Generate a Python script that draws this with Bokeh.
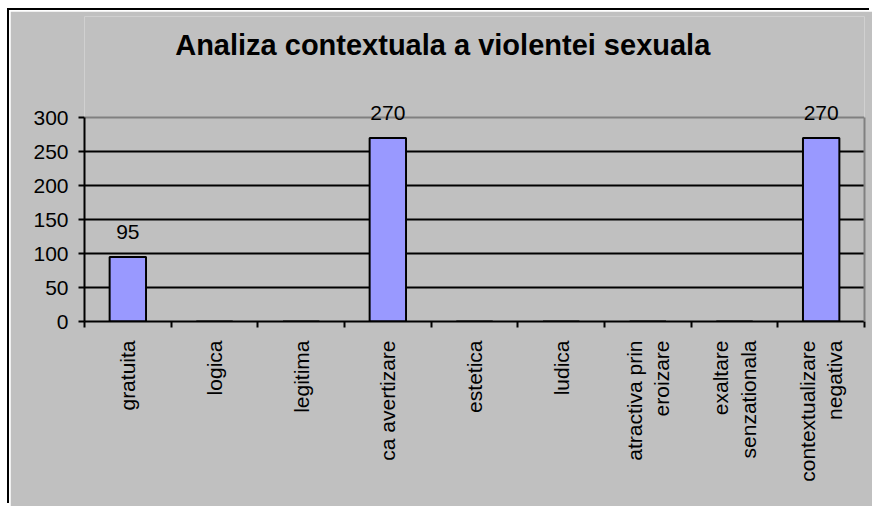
import math
from bokeh.plotting import figure
from bokeh.models import (ColumnDataSource, LabelSet, Label, FactorRange, Range1d, LinearAxis,
                          FixedTicker, Grid)
from bokeh.core.properties import value
from bokeh.embed import file_html
from bokeh.resources import INLINE

# ---- data ----
title_text = "Analiza contextuala a violentei  sexuala"
categories = ["gratuita", "logica", "legitima", "ca avertizare", "estetica", "ludica",
              "atractiva prin eroizare", "exaltare senzationala", "contextualizare negativa"]
category_labels = ["gratuita", "logica", "legitima", "ca avertizare", "estetica", "ludica",
                   "atractiva prin\neroizare", "exaltare\nsenzationala", "contextualizare\nnegativa"]
values = [95, 0, 0, 270, 0, 0, 0, 0, 270]
y_ticks = [0, 50, 100, 150, 200, 250, 300]

FONT = "Liberation Sans"
GRAY = "#C0C0C0"
DARK = "#808080"
FS = "21px"

# the frame reaches up to the title; the value axis (0..300) occupies its lower AXIS_H px
FRAME_H = 305
AXIS_H = 204
y_end = y_ticks[-1] * FRAME_H / AXIS_H

p = figure(x_range=FactorRange(factors=categories), y_range=Range1d(y_ticks[0], y_end),
           width=862, height=495, output_backend="svg", toolbar_location=None,
           title=None, x_axis_location=None, y_axis_location="left",
           min_border_left=74, min_border_right=8, min_border_top=5, min_border_bottom=185,
           background_fill_color=GRAY, border_fill_color=GRAY,
           outline_line_color=None)

# outer chart border (black, thin white inner line) drawn as shadows outside the canvas
p.styles = {"margin-left": "10px", "margin-top": "11px",
            "box-shadow": "-1px -1px 0 0 white, -3px -3px 0 0 black"}

# title (placed in data coordinates above the value axis)
p.add_layout(Label(x=4.18, y=407, text=title_text, text_align="center",
                   text_baseline="alphabetic", text_font=FONT, text_font_size="29px",
                   text_font_style="bold", text_color="black"))

# bars
src = ColumnDataSource(dict(cat=categories, val=values))
p.vbar(x="cat", top="val", width=0.42, source=src, fill_color="#9999FF",
       line_color="black", line_width=2)

# data labels (non-zero only)
lab_cats = [c for c, v in zip(categories, values) if v]
lab_vals = [v for v in values if v]
lsrc = ColumnDataSource(dict(cat=lab_cats, val=lab_vals, txt=[str(v) for v in lab_vals]))
p.add_layout(LabelSet(x="cat", y="val", text="txt", source=lsrc, text_align="center",
                      text_baseline="alphabetic", y_offset=18, text_font=value(FONT),
                      text_font_size=value(FS), text_color="black"))

# grid
p.xgrid.visible = False
p.ygrid.ticker = FixedTicker(ticks=y_ticks[1:-1])
p.ygrid.grid_line_color = "black"
p.ygrid.grid_line_width = 2
p.add_layout(Grid(dimension=1, ticker=FixedTicker(ticks=[y_ticks[-1]]),
                  grid_line_color=DARK, grid_line_width=2))

# y axis
ya = p.yaxis[0]
ya.ticker = FixedTicker(ticks=y_ticks)
ya.bounds = (y_ticks[0], y_ticks[-1])
ya.axis_line_width = 2
ya.major_tick_line_width = 2
ya.major_tick_in = 0
ya.major_tick_out = 6
ya.minor_tick_line_color = None
ya.major_label_text_font = FONT
ya.major_label_text_font_size = FS
ya.major_label_text_color = "black"
ya.major_label_standoff = 10

# right border of the plot area
ra = LinearAxis(bounds=(y_ticks[0], y_ticks[-1]), ticker=FixedTicker(ticks=[]),
                axis_line_color=DARK, axis_line_width=2, major_tick_line_color=None,
                minor_tick_line_color=None, major_label_text_alpha=0,
                major_label_text_font_size="1px")
p.add_layout(ra, "right")

# x axis: ticks at category boundaries (synthetic factor coordinates 0..n)
n = len(categories)
edge_axis = LinearAxis(ticker=FixedTicker(ticks=list(range(n + 1))),
                       axis_line_width=2, major_tick_line_width=2,
                       major_tick_in=0, major_tick_out=6, minor_tick_line_color=None,
                       major_label_text_font_size="1px", major_label_text_alpha=0,
                       major_label_standoff=0)
p.add_layout(edge_axis, "below")

# x axis: category labels at category centres
centers = [i + 0.5 for i in range(n)]
label_axis = LinearAxis(ticker=FixedTicker(ticks=centers),
                        axis_line_color=None, major_tick_line_color=None,
                        minor_tick_line_color=None,
                        major_label_orientation=math.pi / 2,
                        major_label_overrides={c: t for c, t in zip(centers, category_labels)},
                        major_label_text_font=FONT, major_label_text_font_size=FS,
                        major_label_text_color="black", major_label_standoff=7)
p.add_layout(label_axis, "below")

open("out.html", "w").write(file_html(p, INLINE))
